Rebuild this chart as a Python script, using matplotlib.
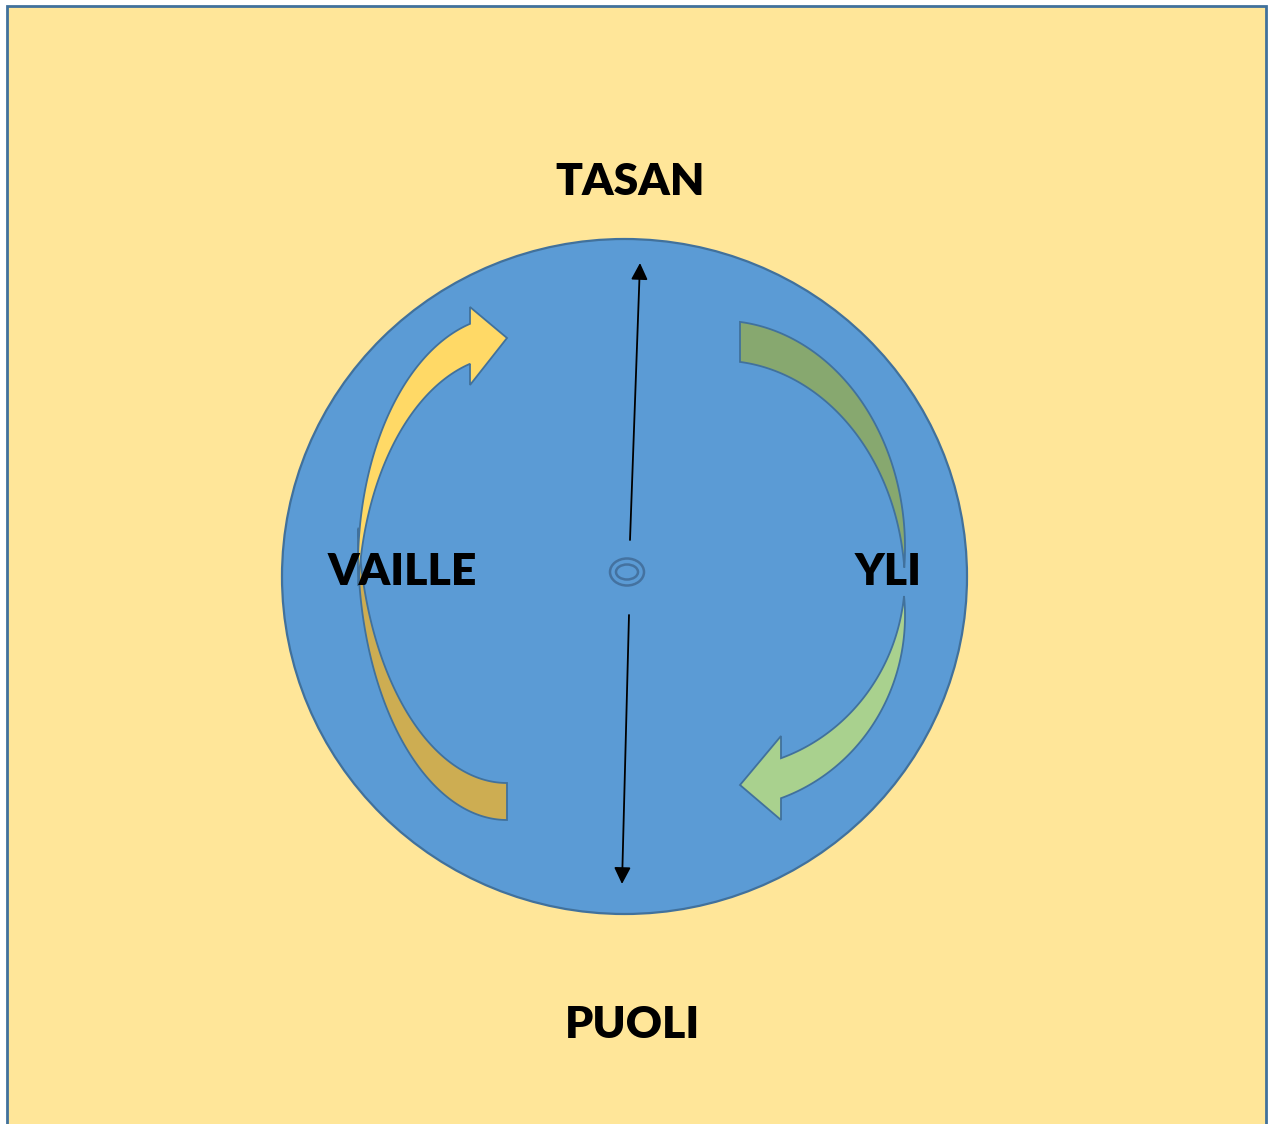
import numpy as np
import matplotlib
matplotlib.use("Agg")
import matplotlib.pyplot as plt
from matplotlib.patches import Ellipse, Polygon, Rectangle

# ---- content ----
labels = ["TASAN", "PUOLI", "VAILLE", "YLI"]
label_x = [630, 632, 402, 888]
label_baseline = [195, 1038, 585, 585]

# ---- colours ----
BG = "#FFE699"
CIRCLE = "#5B9BD5"
EDGE = "#41719C"
YELLOW = "#FFD966"
GOLD = "#CDAD52"
GREEN_LIGHT = "#A9D18E"
GREEN_DARK = "#87A86F"

W, H = 1271, 1124
fig = plt.figure(figsize=(W / 100, H / 100), dpi=100)
ax = fig.add_axes([0, 0, 1, 1])
ax.set_xlim(0, W)
ax.set_ylim(H, 0)
ax.axis("off")
fig.patch.set_facecolor("white")

# background panel
ax.add_patch(Rectangle((7, 6), 1259, 1130, facecolor=BG, edgecolor=EDGE, lw=2.0, zorder=0))

# big circle
ax.add_patch(Ellipse((624.5, 576.5), 685, 675, facecolor=CIRCLE, edgecolor=EDGE, lw=1.6, zorder=1))


def arc(cx, cy, a, b, t0, t1, n=120):
    t = np.linspace(t0, t1, n)
    return np.column_stack([cx + a * np.cos(t), cy + b * np.sin(t)])


# ---- left (yellow) curved arrow ----
a, b = 149, 273
d = np.arcsin(18.5 / 273)
e1 = arc(507, 547, a, b, np.pi / 2, np.pi + d)
e2 = arc(507, 510, a, b, np.pi - d, np.pi / 2)
ax.add_patch(Polygon(np.vstack([e1, e2]), closed=True, facecolor=GOLD, edgecolor=EDGE, lw=1.3, zorder=2))

a, b = 149, 250
d = np.arcsin(20 / 250)
tend = 2 * np.pi - np.arccos((470 - 507) / a)
o = arc(507, 566, a, b, np.pi - d, tend)
i = arc(507, 606, a, b, tend, np.pi + d)
head = np.array([[470, 307], [507, 338], [470, 385]])
ax.add_patch(Polygon(np.vstack([o, head, i]), closed=True, facecolor=YELLOW, edgecolor=EDGE, lw=1.3, zorder=3))

# ---- right (green) curved arrow ----
a, b = 185, 227
d = np.arcsin(20 / 227)
tstart = 2 * np.pi - np.arccos((740 - 720) / a)
g1 = arc(720, 547.6, a, b, tstart, 2 * np.pi + d)
g2 = arc(720, 587.6, a, b, 2 * np.pi - d, tstart)
ax.add_patch(Polygon(np.vstack([g1, g2]), closed=True, facecolor=GREEN_DARK, edgecolor=EDGE, lw=1.3, zorder=2))

a, b = 185, 193
d = np.arcsin(20 / 193)
tb = np.arccos((781 - 720) / a)
h2 = arc(720, 576, a, b, d, tb)
h1 = arc(720, 616, a, b, tb, -d)
ghead = np.array([[781, 736], [740, 785], [781, 820]])
ax.add_patch(Polygon(np.vstack([h2, ghead, h1]), closed=True, facecolor=GREEN_LIGHT, edgecolor=EDGE, lw=1.3, zorder=3))

# ---- centre symbol ----
ax.add_patch(Ellipse((627, 572), 34, 27, facecolor="none", edgecolor="#4472A0", lw=1.8, zorder=4))
ax.add_patch(Ellipse((627, 572), 22, 15, facecolor="none", edgecolor="#4472A0", lw=1.8, zorder=4))

# ---- vertical arrows ----
aprops = dict(arrowstyle="-|>,head_length=0.4,head_width=0.2", mutation_scale=25,
              color="black", lw=1.3, shrinkA=0, shrinkB=0)
ax.annotate("", xy=(640, 263), xytext=(630, 540), arrowprops=aprops, zorder=5)
ax.annotate("", xy=(622, 884), xytext=(629, 615), arrowprops=aprops, zorder=5)

# ---- labels ----
for txt, x, y in zip(labels, label_x, label_baseline):
    ax.text(x, y, txt, ha="center", va="baseline", fontsize=32, fontweight="heavy",
            family=["Lato", "DejaVu Sans"], color="black", zorder=6)

fig.savefig("out.png", dpi=100, facecolor="white")
